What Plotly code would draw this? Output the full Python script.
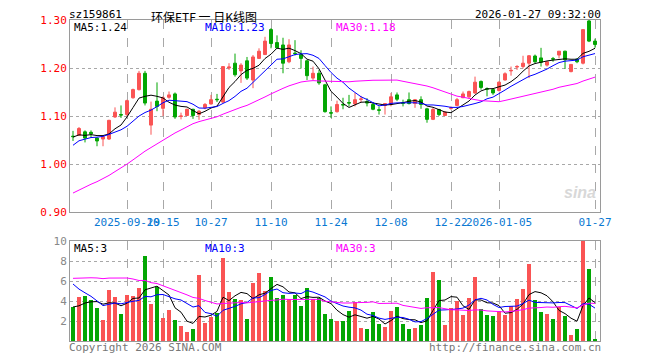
import plotly.graph_objects as go

dates = [
    "2025-09-16", "2025-09-17", "2025-09-18", "2025-09-19", "2025-09-22", "2025-09-23", "2025-09-24",
    "2025-09-25", "2025-09-26", "2025-09-29", "2025-09-30",
    "2025-10-09", "2025-10-10", "2025-10-13", "2025-10-14", "2025-10-15", "2025-10-16", "2025-10-17",
    "2025-10-20", "2025-10-21", "2025-10-22", "2025-10-23", "2025-10-24", "2025-10-27", "2025-10-28",
    "2025-10-29", "2025-10-30", "2025-10-31",
    "2025-11-03", "2025-11-04", "2025-11-05", "2025-11-06", "2025-11-07", "2025-11-10", "2025-11-11",
    "2025-11-12", "2025-11-13", "2025-11-14", "2025-11-17", "2025-11-18", "2025-11-19", "2025-11-20",
    "2025-11-21", "2025-11-24", "2025-11-25", "2025-11-26", "2025-11-27", "2025-11-28",
    "2025-12-01", "2025-12-02", "2025-12-03", "2025-12-04", "2025-12-05", "2025-12-08", "2025-12-09",
    "2025-12-10", "2025-12-11", "2025-12-12", "2025-12-15", "2025-12-16", "2025-12-17", "2025-12-18",
    "2025-12-19", "2025-12-22", "2025-12-23", "2025-12-24", "2025-12-25", "2025-12-26", "2025-12-29",
    "2025-12-30", "2025-12-31",
    "2026-01-05", "2026-01-06", "2026-01-07", "2026-01-08", "2026-01-09", "2026-01-12", "2026-01-13",
    "2026-01-14", "2026-01-15", "2026-01-16", "2026-01-19", "2026-01-20", "2026-01-21", "2026-01-22",
    "2026-01-23", "2026-01-26", "2026-01-27",
]

opens = [1.058, 1.060, 1.067, 1.066, 1.054, 1.052, 1.052, 1.098, 1.103, 1.103,
         1.138, 1.155, 1.189, 1.081, 1.131, 1.116, 1.139, 1.146, 1.099, 1.101,
         1.114, 1.103, 1.117, 1.125, 1.135, 1.129, 1.200, 1.210, 1.194, 1.215,
         1.175, 1.220, 1.228, 1.280, 1.253, 1.248, 1.213, 1.231, 1.228, 1.215,
         1.179, 1.189, 1.165, 1.107, 1.109, 1.124, 1.128, 1.125, 1.1345, 1.130,
         1.124, 1.113, 1.122, 1.124, 1.144, 1.127, 1.134, 1.126, 1.134, 1.115,
         1.093, 1.1135, 1.101, 1.116, 1.122, 1.138, 1.140, 1.148, 1.172, 1.157,
         1.155, 1.153, 1.175, 1.194, 1.202, 1.203, 1.210, 1.225, 1.221, 1.206,
         1.2195, 1.227, 1.235, 1.1925, 1.2185, 1.210, 1.298, 1.256]
highs = [1.069, 1.077, 1.070, 1.070, 1.055, 1.059, 1.092, 1.118, 1.122, 1.134,
         1.157, 1.194, 1.194, 1.130, 1.170, 1.141, 1.151, 1.149, 1.107, 1.115,
         1.115, 1.112, 1.127, 1.144, 1.146, 1.203, 1.210, 1.230, 1.210, 1.223,
         1.227, 1.241, 1.265, 1.283, 1.268, 1.263, 1.260, 1.258, 1.237, 1.217,
         1.203, 1.196, 1.167, 1.120, 1.132, 1.138, 1.144, 1.148, 1.142, 1.137,
         1.129, 1.120, 1.127, 1.148, 1.149, 1.134, 1.149, 1.1355, 1.141, 1.117,
         1.117, 1.115, 1.110, 1.120, 1.1375, 1.151, 1.153, 1.182, 1.174, 1.1595,
         1.158, 1.172, 1.191, 1.203, 1.206, 1.2255, 1.227, 1.228, 1.242, 1.2135,
         1.223, 1.235, 1.236, 1.208, 1.220, 1.280, 1.302, 1.261]
lows = [1.048, 1.059, 1.045, 1.055, 1.037, 1.037, 1.050, 1.096, 1.096, 1.100,
        1.136, 1.153, 1.122, 1.061, 1.110, 1.100, 1.136, 1.094, 1.093, 1.100,
        1.094, 1.092, 1.114, 1.124, 1.129, 1.127, 1.196, 1.182, 1.169, 1.175,
        1.158, 1.219, 1.227, 1.241, 1.241, 1.189, 1.210, 1.226, 1.199, 1.175,
        1.175, 1.165, 1.107, 1.096, 1.107, 1.114, 1.120, 1.120, 1.129, 1.120,
        1.112, 1.103, 1.103, 1.120, 1.131, 1.120, 1.124, 1.117, 1.115, 1.086,
        1.0915, 1.100, 1.100, 1.113, 1.120, 1.1375, 1.136, 1.146, 1.155, 1.141,
        1.144, 1.151, 1.174, 1.184, 1.196, 1.199, 1.179, 1.210, 1.203, 1.203,
        1.213, 1.220, 1.198, 1.191, 1.210, 1.2075, 1.254, 1.242]
closes = [1.057, 1.074, 1.054, 1.063, 1.048, 1.057, 1.091, 1.108, 1.102, 1.132,
          1.155, 1.189, 1.127, 1.114, 1.120, 1.138, 1.144, 1.098, 1.100, 1.114,
          1.101, 1.110, 1.124, 1.134, 1.134, 1.203, 1.202, 1.186, 1.206, 1.179,
          1.223, 1.235, 1.256, 1.251, 1.242, 1.210, 1.248, 1.230, 1.220, 1.184,
          1.189, 1.169, 1.109, 1.106, 1.124, 1.123, 1.127, 1.134, 1.1355, 1.127,
          1.114, 1.112, 1.126, 1.140, 1.135, 1.1265, 1.126, 1.134, 1.124, 1.093,
          1.1135, 1.103, 1.108, 1.117, 1.134, 1.146, 1.151, 1.1705, 1.1595, 1.156,
          1.148, 1.1705, 1.188, 1.195, 1.203, 1.210, 1.2255, 1.213, 1.212, 1.213,
          1.2185, 1.235, 1.217, 1.2075, 1.213, 1.280, 1.256, 1.249]
volumes = [3.4, 4.4, 4.5, 4.1, 3.3, 2.1, 5.1, 4.4, 2.7, 4.6,
           4.5, 5.3, 8.5, 3.7, 5.4, 2.3, 3.1, 2.1, 1.5, 0.9,
           1.2, 6.6, 1.8, 2.4, 2.8, 8.3, 4.9, 4.2, 4.1, 2.2,
           5.8, 6.8, 5.0, 6.4, 4.3, 4.6, 4.2, 4.6, 3.5, 5.3,
           4.2, 4.3, 2.7, 2.2, 2.0, 2.0, 3.0, 3.9, 1.3, 1.2,
           2.9, 1.7, 1.4, 3.0, 3.4, 1.7, 1.2, 1.3, 1.6, 4.3,
           6.9, 6.1, 1.6, 3.3, 4.0, 2.6, 4.3, 6.4, 3.2, 2.6,
           2.5, 3.0, 2.6, 3.5, 4.2, 5.2, 7.7, 4.1, 2.9, 2.7,
           2.2, 3.4, 2.5, 0.6, 1.2, 10.0, 7.2, 0.2]

# sessions before the visible window (only feed the moving averages)
closes_before = [0.88, 0.875, 0.885, 0.89, 0.88, 0.875, 0.87, 0.88, 0.885, 0.89,
                 0.895, 0.88, 0.885, 0.89, 0.895, 0.90, 0.905, 0.91, 0.90, 0.925,
                 0.98, 1.02, 1.03, 1.04, 1.04, 1.05, 1.06, 1.055, 1.058]
volumes_before = [3.5, 4.2, 3.6, 3.9, 4.1, 3.4, 3.8, 3.7, 4.0,
                  7.5, 9.8, 8.2, 10.5, 8.0, 9.1, 7.8, 9.6, 8.4, 9.0, 8.9,
                  9.5, 8.2, 7.6, 7.9, 6.8, 3.8, 3.1, 3.5, 3.2]

tick_dates = ["2025-09-29", "2025-10-15", "2025-10-27", "2025-11-10", "2025-11-24",
              "2025-12-08", "2025-12-22", "2026-01-05", "2026-01-27"]
tick_labels = ["2025-09-29", "10-15", "10-27", "11-10", "11-24", "12-08", "12-22", "2026-01-05", "01-27"]
price_ticks = [0.90, 1.00, 1.10, 1.20, 1.30]
vol_ticks = [2, 4, 6, 8, 10]


def moving_avg(before, values, n):
    full = list(before) + list(values)
    off = len(before)
    return [sum(full[off + i - n + 1: off + i + 1]) / n for i in range(len(values))]


ma5 = moving_avg(closes_before, closes, 5)
ma10 = moving_avg(closes_before, closes, 10)
ma30 = moving_avg(closes_before, closes, 30)
vma5 = moving_avg(volumes_before, volumes, 5)
vma10 = moving_avg(volumes_before, volumes, 10)
vma30 = moving_avg(volumes_before, volumes, 30)

RED = "#fa5454"
GREEN = "#03a603"
MONO = "DejaVu Sans Mono"
GRID = "#a8a8a8"
FRAME = "#9a9a9a"

fig = go.Figure()
fig.add_trace(go.Candlestick(
    x=dates, open=opens, high=highs, low=lows, close=closes,
    increasing=dict(line=dict(color=RED, width=1), fillcolor=RED),
    decreasing=dict(line=dict(color=GREEN, width=1), fillcolor=GREEN),
    whiskerwidth=0, xaxis="x", yaxis="y", showlegend=False, hoverinfo="skip"))
for vals, col in [(ma5, "#000000"), (ma10, "#0000ff"), (ma30, "#ff00ff")]:
    fig.add_trace(go.Scatter(x=dates, y=vals, mode="lines", line=dict(color=col, width=1),
                             xaxis="x", yaxis="y", showlegend=False, hoverinfo="skip"))

bar_colors = [RED if c >= o else GREEN for o, c in zip(opens, closes)]
fig.add_trace(go.Bar(x=dates, y=volumes, marker=dict(color=bar_colors, line=dict(width=0)),
                     width=0.82, xaxis="x2", yaxis="y2", showlegend=False, hoverinfo="skip"))
for vals, col in [(vma5, "#000000"), (vma10, "#0000ff"), (vma30, "#ff00ff")]:
    fig.add_trace(go.Scatter(x=dates, y=vals, mode="lines", line=dict(color=col, width=1),
                             xaxis="x2", yaxis="y2", showlegend=False, hoverinfo="skip"))

# the page body has an 8px margin: work in page pixels and shift into the figure
OFF = 8
W, H = 660 - OFF, 360 - OFF
X0, X1 = 70, 600          # plot frame, page px
Y_TOP, Y_MAIN_BOT = 20, 212
Y_VOL_TOP, Y_VOL_BOT = 241, 341
L = X0 - OFF
R = W - (X1 - OFF)
T = Y_TOP - OFF
B = H - (Y_VOL_BOT - OFF)
pw, ph = W - L - R, H - T - B


def px(x):
    return (x - X0) / pw


def py(y):
    return (Y_VOL_BOT - y) / ph


xrange_ = [-0.5, 87.83]
common_x = dict(type="category", range=xrange_, showgrid=True, gridcolor=GRID, griddash="dash",
                gridwidth=1, tickmode="array", tickvals=tick_dates, showline=True, linecolor=FRAME,
                linewidth=1, mirror=True, ticks="", zeroline=False, fixedrange=True)

fig.update_layout(
    width=W, height=H, margin=dict(l=L, r=R, t=T, b=B, autoexpand=False),
    paper_bgcolor="white", plot_bgcolor="white",
    font=dict(family=MONO, size=11, color="#000"),
    xaxis=dict(common_x, domain=[0, 1], anchor="y", ticktext=tick_labels, tickangle=0,
               tickfont=dict(family=MONO, size=11, color="#0a78d2"), rangeslider=dict(visible=False)),
    yaxis=dict(domain=[py(Y_MAIN_BOT), 1], range=[0.90, 1.30], tickmode="array", tickvals=price_ticks,
               ticktext=[f"{v:.2f}" for v in price_ticks], tickfont=dict(family=MONO, size=11, color="#ff0000"),
               showgrid=True, gridcolor=GRID, griddash="dot", showline=True, linecolor=FRAME,
               mirror=True, zeroline=False, ticks="", fixedrange=True),
    xaxis2=dict(common_x, domain=[0, 1], anchor="y2", ticktext=["" for _ in tick_dates], showticklabels=False),
    yaxis2=dict(domain=[0, py(Y_VOL_TOP)], range=[0, 10], tickmode="array", tickvals=vol_ticks,
                tickfont=dict(family=MONO, size=11, color="#888888"),
                showgrid=True, gridcolor=GRID, griddash="dot", showline=True, linecolor=FRAME,
                mirror=True, zeroline=False, ticks="", fixedrange=True),
    bargap=0,
)


def note(text, x, y, color="#000", size=11, xanchor="left", family=MONO, yanchor="middle", **kw):
    fig.add_annotation(text=text, x=px(x), y=py(y), xref="paper", yref="paper", showarrow=False,
                       xanchor=xanchor, yanchor=yanchor, borderpad=0, borderwidth=0,
                       font=dict(family=family, size=size, color=color), **kw)


note("sz159861", 69, 14.5)
note("环保ETF 一 日K线图", 151, 8, size=12, family="Noto Sans CJK SC", yanchor="top")
note("2026-01-27 09:32:00", 601, 14.5, xanchor="right")
note(f"MA5:{ma5[-1]:.2f}", 74, 27)
note(f"MA10:{ma10[-1]:.2f}", 205, 27, color="#0000ff")
note(f"MA30:{ma30[-1]:.2f}", 336, 27, color="#ff00ff")
note(f"MA5:{int(vma5[-1])}", 74, 248)
note(f"MA10:{int(vma10[-1])}", 205, 248, color="#0000ff")
note(f"MA30:{int(vma30[-1])}", 336, 248, color="#ff00ff")
note("Copyright 2026 SINA.COM", 69, 347, color="#777777")
note("http://finance.sina.com.cn", 601, 347, color="#777777", xanchor="right")
note("<b><i>sina</i></b>", 596, 192, color="#d8d8d8", size=16, xanchor="right", family="Liberation Sans")

fig.write_html("out.html")
